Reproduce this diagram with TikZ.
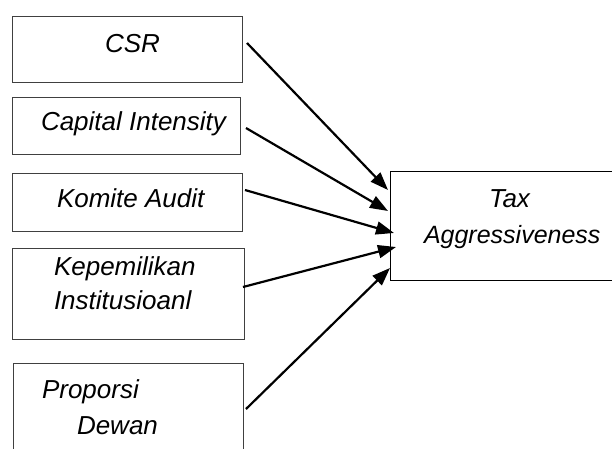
\documentclass[tikz,border=0pt]{standalone}
\usepackage{fontspec}
\setmainfont{Liberation Sans}
\usetikzlibrary{arrows.meta}
\begin{document}
\begin{tikzpicture}[x=1pt,y=-1pt,
  boxnode/.style={draw=black!75,line width=1pt,anchor=north west,inner sep=0pt,outer sep=0pt},
  lbl/.style={anchor=base west,inner sep=0pt,outer sep=0pt,font=\fontsize{26}{30}\selectfont\itshape},
  arr/.style={line width=2.2pt,-{Triangle[length=18pt,width=13pt]}}]
\useasboundingbox (0,0) rectangle (612,448);
\begin{scope}
\clip (0,0) rectangle (612,448);
\node[boxnode,minimum width=230pt,minimum height=66pt] (csr) at (12,16) {};
\node[boxnode,minimum width=228pt,minimum height=57pt] (cap) at (12,97) {};
\node[boxnode,minimum width=230pt,minimum height=58pt] (kom) at (12,173) {};
\node[boxnode,minimum width=232pt,minimum height=91pt] (kep) at (12,248) {};
\node[boxnode,minimum width=230pt,minimum height=100pt] (pro) at (13,363) {};
\node[boxnode,draw=black,minimum width=240pt,minimum height=109pt] (tax) at (390,171) {};
\end{scope}
\node[lbl] (t1) at (105,52) {CSR};
\node[lbl] (t2) at (41,130) {Capital Intensity};
\node[lbl] (t3) at (57,207) {Komite Audit};
\node[lbl] (t4) at (54,275) {Kepemilikan};
\node[lbl] (t5) at (54,309) {Institusioanl};
\node[lbl] (t6) at (42,398) {Proporsi};
\node[lbl] (t7) at (77,434) {Dewan};
\node[lbl] (t8) at (489,207) {Tax};
\node[lbl,font=\fontsize{25}{30}\selectfont\itshape] (t9) at (424,243) {Aggressiveness};
\coordinate (s1) at (247,43);
\coordinate (s2) at (246,128);
\coordinate (s3) at (245,190);
\coordinate (s4) at (243,287);
\coordinate (s5) at (246,409);
\coordinate (e1) at (388,190);
\coordinate (e2) at (388,211);
\coordinate (e3) at (394,233);
\coordinate (e4) at (396,247);
\coordinate (e5) at (390,268);
\draw[arr] (s1) -- (e1);
\draw[arr] (s2) -- (e2);
\draw[arr] (s3) -- (e3);
\draw[arr] (s4) -- (e4);
\draw[arr] (s5) -- (e5);
\end{tikzpicture}
\end{document}
